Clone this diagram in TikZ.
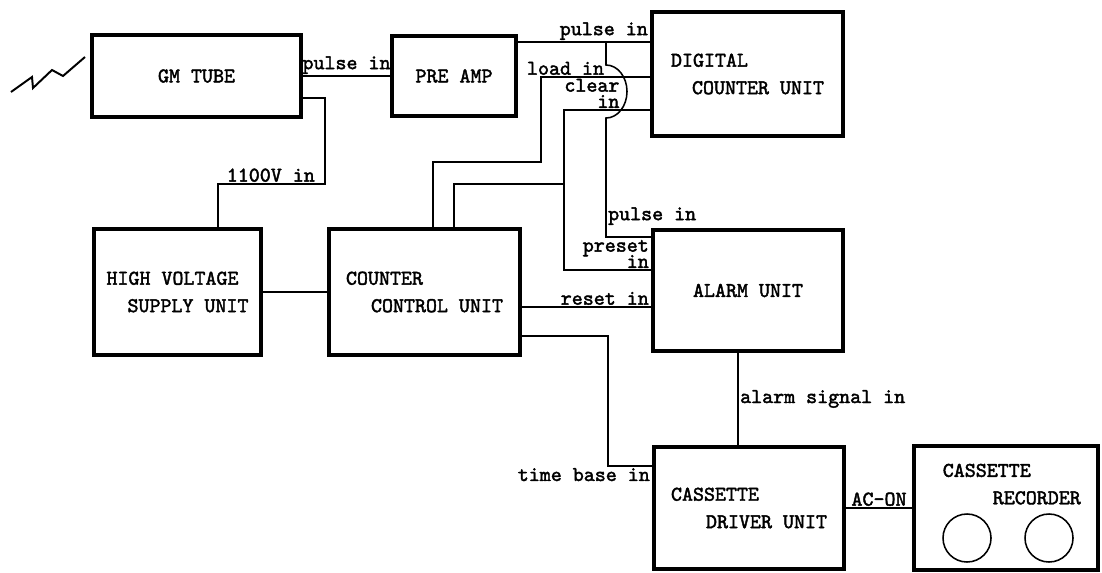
\documentclass[tikz,border=0pt]{standalone}
\usepackage{fontspec}
\newfontfamily\typefont{lmmono10-regular}[Extension=.otf, FakeBold=2]
\newcommand{\boxfont}{\typefont\fontsize{14.9pt}{19.5pt}\selectfont}
\newcommand{\sigfont}{\typefont\fontsize{14.9pt}{11.5pt}\selectfont\lineskiplimit=-20pt}

\begin{document}
\begin{tikzpicture}[x=0.025cm, y=-0.025cm, line width=1.1pt,
	unitbox/.style={draw, line width=0.1cm, align=left, font=\boxfont},
	siglabel/.style={font=\sigfont, inner sep=1pt}]

	\useasboundingbox (0,0) rectangle (1102,572);

	\node[unitbox, minimum width=5.225cm, minimum height=2.025cm] (gm) at (196.5,76) {GM TUBE};
	\node[unitbox, minimum width=3.1cm, minimum height=2.0cm] (pre) at (454,76) {PRE AMP};
	\node[unitbox, minimum width=4.775cm, minimum height=3.1cm] (dcu) at (747.5,74) {DIGITAL\\\hspace*{0.525cm}COUNTER UNIT};
	\node[unitbox, minimum width=4.175cm, minimum height=3.15cm] (hv) at (177.5,292) {HIGH VOLTAGE\\\hspace*{0.525cm}SUPPLY UNIT};
	\node[unitbox, minimum width=4.775cm, minimum height=3.15cm] (ccu) at (424.5,292) {COUNTER\\\hspace*{0.625cm}CONTROL UNIT};
	\node[unitbox, minimum width=4.75cm, minimum height=3.025cm] (alarm) at (748,290.5) {ALARM UNIT};
	\node[unitbox, minimum width=4.75cm, minimum height=3.05cm] (cdu) at (749,508) {CASSETTE\\\hspace*{0.875cm}DRIVER UNIT};
	\node[unitbox, minimum width=4.6cm, minimum height=3.075cm] (rec) at (1006,508) {};
	\node[font=\boxfont, align=left, inner sep=0pt, anchor=north west] (rectext) at (942,463) {CASSETTE\\\hspace*{1.25cm}RECORDER};
	\draw (967,538) circle[radius=0.6cm];
	\draw (1049,538) circle[radius=0.6cm];

	\draw[line width=1.4pt] (11,92) -- (32,77) -- (33,88) -- (52,70) -- (63,76) -- (85,57);

	\draw (gm.east) -- (gm.east -| pre.west) node[siglabel, midway, above] {pulse in};
	\draw (gm.east |- 0,98) -| (325,184) node[siglabel, above left, xshift=-0.2cm] {1100V in} -| (hv.north -| 218,0);
	\draw (pre.east |- 0,42) -- (dcu.west |- 0,42) node[siglabel, above left] {pulse in};
	\coordinate (tap) at (606,42);
	\draw (tap) -- ++(0,23) arc[start angle=90, end angle=-90, x radius=0.525cm, y radius=0.6625cm]
		-- (606,237) node[siglabel, above right, yshift=0.25cm] {pulse in} -- (alarm.west |- 0,237);
	\draw (ccu.north -| 433,0) |- (541,162) -- (541,77) -- node[siglabel, above, pos=0.225] {load in} (dcu.west |- 0,77);
	\draw (dcu.west |- 0,110) -- node[siglabel, pos=0.33, anchor=south east, align=right] {clear\\in} (564,110)
		-- (564,270) -- (alarm.west |- 0,270) node[siglabel, above left, align=right] {preset\\in};
	\draw (ccu.north -| 454,0) |- (564,184);
	\draw (hv) -- (ccu);
	\draw (ccu.east |- 0,307) -- (alarm.west |- 0,307) node[siglabel, above left] {reset in};
	\draw (ccu.east |- 0,336) -| (608,466) -- (cdu.west |- 0,466) node[siglabel, below left] {time base in};
	\draw (alarm.south -| 738,0) -- (cdu.north -| 738,0) node[siglabel, midway, right] {alarm signal in};
	\draw (cdu.east) -- (cdu.east -| rec.west) node[siglabel, midway, above] {AC-ON};

\end{tikzpicture}
\end{document}
